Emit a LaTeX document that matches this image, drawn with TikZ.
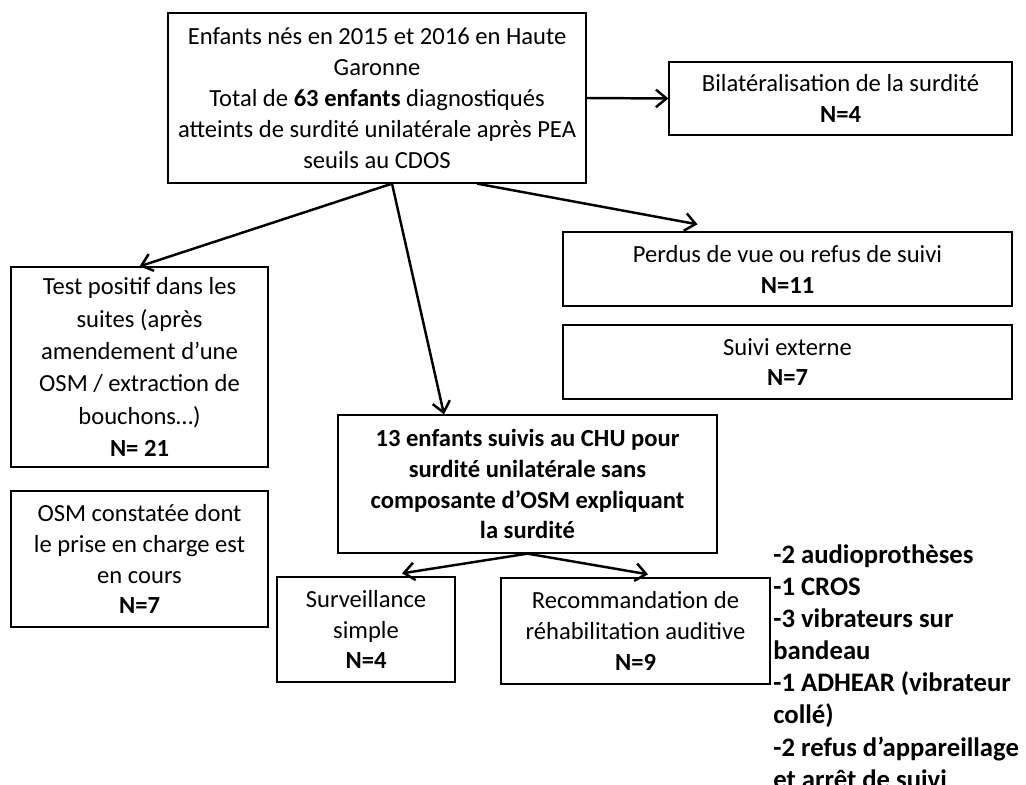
\documentclass[tikz,border=0pt]{standalone}
\usepackage{fontspec}
\setmainfont{Carlito}
\usepackage{tikz}
\usetikzlibrary{calc}
\usetikzlibrary{arrows.meta}

\begin{document}
\begin{tikzpicture}[x=0.02cm,y=-0.02cm]
\tikzstyle{bx}=[draw,shape=rectangle,line width=0.75pt,align=center,inner sep=0pt,font=\fontsize{14}{17.6}\selectfont]
\tikzstyle{ar}=[-{Straight Barb[length=6pt,width=10pt]},line width=1.4pt]
\useasboundingbox (0,0) rectangle (1026,784);
%
\node[bx,minimum width=8.36cm,minimum height=3.40cm](tot) at (377,98){Enfants nés en 2015 et 2016 en Haute\\Garonne\\Total de \textbf{63 enfants} diagnostiqués\\atteints de surdité unilatérale après PEA\\seuils au CDOS};
\node[bx,minimum width=6.86cm,minimum height=1.46cm](bil) at (840.5,98.5){Bilatéralisation de la surdité\\\textbf{N=4}};
\node[bx,minimum width=8.98cm,minimum height=1.48cm](pdv) at (787.5,269){Perdus de vue ou refus de suivi\\\textbf{N=11}};
\node[bx,minimum width=8.98cm,minimum height=1.48cm](ext) at (787.5,362){Suivi externe\\\textbf{N=7}};
%
\node[bx,minimum width=5.14cm,minimum height=4.00cm,font=\fontsize{14}{18.4}\selectfont](pos) at (139.5,367){Test positif dans les\\suites (après\\amendement d’une\\OSM / extraction de\\bouchons…)\\\textbf{N= 21}};
\node[bx,minimum width=5.14cm,minimum height=2.72cm](osm) at (139.5,559){OSM constatée dont\\le prise en charge est\\en cours\\\textbf{N=7}};
%
\node[bx,minimum width=7.58cm,minimum height=2.76cm,font=\fontsize{14}{17.6}\selectfont\bfseries](chu) at (527.5,484){13 enfants suivis au CHU pour\\surdité unilatérale sans\\composante d’OSM expliquant\\la surdité};
\node[bx,minimum width=3.56cm,minimum height=2.10cm](surv) at (366,629.5){Surveillance\\simple\\\textbf{N=4}};
\node[bx,minimum width=5.38cm,minimum height=2.12cm](reco) at (635.5,631){Recommandation de\\réhabilitation auditive\\\textbf{N=9}};
%
\node[align=left,inner sep=0pt,anchor=north west,font=\fontsize{15.2}{18.3}\selectfont\bfseries](lst) at (773,544){-2 audioprothèses\\-1 CROS\\-3 vibrateurs sur\\bandeau\\-1 ADHEAR (vibrateur\\collé)\\-2 refus d’appareillage\\et arrêt de suivi};
%
\draw[ar] (tot.east) -- (bil.west);
\draw[ar] ($(tot.south)+(15,0)$) -- (pos.north);
\draw[ar] ($(tot.south)+(15,0)$) -- ($(chu.north)+(-83.5,0)$);
\draw[ar] ($(tot.south)+(100,0)$) -- ($(pdv.north)+(-90,-7)$);
\draw[ar] (chu.south) -- ($(surv.north)+(36,-3)$);
\draw[ar] (chu.south) -- ($(reco.north)+(12.5,-3)$);
\end{tikzpicture}
\end{document}
